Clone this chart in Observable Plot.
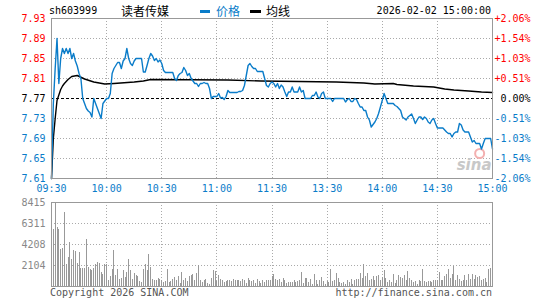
<!DOCTYPE html>
<html><head><meta charset="utf-8">
<script src="https://cdn.jsdelivr.net/npm/d3@7"></script>
<script src="https://cdn.jsdelivr.net/npm/@observablehq/plot@0.6"></script>
<style>
body{margin:0;background:#fff;}
#wrap{position:relative;width:545px;height:300px;overflow:hidden;font-family:"DejaVu Sans Mono",monospace;}
#wrap svg{position:absolute;left:0;}
.t{position:absolute;white-space:nowrap;font-size:10px;line-height:10px;}
.cjk{font-family:"Noto Sans CJK SC",sans-serif;font-size:12px;line-height:12px;}
.bar{position:absolute;height:3px;}
</style></head><body><div id="wrap"></div>
<script>
// ---- data ----
const code = "sh603999";
const stockName = "读者传媒";
const legendNames = ["价格", "均线"];
const stamp = "2026-02-02 15:00:00";
const timeLabels = ["09:30","10:00","10:30","11:00","11:30","13:30","14:00","14:30","15:00"];
const priceTicks = [7.93,7.89,7.85,7.81,7.77,7.73,7.69,7.65,7.61];
const pctLabels = ["+2.06%","+1.54%","+1.03%","+0.51%","0.00%","-0.51%","-1.03%","-1.54%","-2.06%"];
const volTicks = [8415,6311,4208,2104];
const prevClose = 7.77;
const price = [
7.61,7.76,7.83,7.89,7.80,7.85,7.87,7.86,7.87,7.86,
7.87,7.85,7.86,7.845,7.835,7.82,7.81,7.77,7.76,7.75,
7.745,7.742,7.733,7.77,7.76,7.75,7.74,7.73,7.76,7.765,
7.77,7.77,7.78,7.82,7.83,7.836,7.842,7.842,7.83,7.845,
7.85,7.87,7.85,7.84,7.836,7.845,7.85,7.85,7.85,7.85,
7.823,7.823,7.836,7.85,7.86,7.855,7.846,7.85,7.843,7.847,
7.84,7.826,7.822,7.822,7.822,7.822,7.822,7.81,7.806,7.816,
7.82,7.822,7.832,7.826,7.816,7.82,7.81,7.805,7.80,7.80,
7.794,7.80,7.80,7.802,7.80,7.80,7.79,7.77,7.774,7.774,
7.774,7.78,7.771,7.772,7.768,7.774,7.786,7.782,7.782,7.782,
7.782,7.782,7.784,7.784,7.786,7.796,7.816,7.836,7.84,7.834,
7.83,7.83,7.824,7.824,7.824,7.824,7.81,7.796,7.793,7.80,
7.803,7.80,7.793,7.80,7.79,7.797,7.793,7.783,7.774,7.783,
7.783,7.793,7.783,7.783,7.783,7.793,7.783,7.786,7.77,7.77,
7.77,7.77,7.776,7.776,7.783,7.773,7.77,7.78,7.783,7.77,
7.77,7.77,7.77,7.764,7.77,7.77,7.77,7.77,7.77,7.77,
7.763,7.768,7.77,7.764,7.764,7.77,7.768,7.76,7.753,7.753,
7.746,7.746,7.733,7.727,7.713,7.718,7.723,7.73,7.74,7.753,
7.766,7.78,7.77,7.76,7.76,7.76,7.76,7.756,7.754,7.75,
7.746,7.733,7.73,7.727,7.733,7.736,7.739,7.73,7.72,7.727,
7.733,7.733,7.728,7.733,7.73,7.723,7.72,7.727,7.73,7.72,
7.711,7.711,7.711,7.711,7.707,7.703,7.70,7.70,7.693,7.70,
7.703,7.703,7.72,7.717,7.707,7.703,7.703,7.703,7.693,7.683,
7.686,7.68,7.68,7.68,7.669,7.68,7.69,7.69,7.69,7.69,
7.669];
const avgMin = [0,1,2,3,4,5,6,7,8,9,11,14,18,23,29,34,45,50,54,96,114,155,170,176,186,188,197,208,214,219,227,234,240];
const avgVal = [7.61,7.69,7.73,7.766,7.777,7.788,7.795,7.80,7.804,7.808,7.814,7.816,7.809,7.803,7.799,7.80,7.803,7.805,7.808,7.807,7.805,7.803,7.801,7.799,7.80,7.798,7.795,7.793,7.789,7.787,7.785,7.783,7.782];
const volume = [
3400,5680,8415,5910,5750,3750,3850,7415,2240,2900,
4400,2740,3570,3470,2300,3400,1800,1800,1800,4680,
1900,1700,1570,1800,2240,2400,2300,1400,1170,2170,
2170,570,970,1740,3570,1070,1670,740,840,1570,
900,1400,2670,1570,740,1300,1070,970,540,400,
1670,2170,1570,3170,1900,740,570,640,840,740,
640,400,500,1670,400,500,740,900,570,1000,
300,1400,570,840,500,970,1070,1170,570,1300,
2070,640,400,570,740,300,240,840,1570,1500,
500,1070,740,640,400,500,640,640,500,740,
570,640,640,500,740,640,300,840,640,500,
570,300,740,500,300,570,400,640,570,640,
970,1170,740,640,740,400,840,570,300,400,
400,400,640,400,500,570,1400,300,840,840,
400,740,240,1240,570,240,570,900,500,240,
500,400,1740,500,640,1300,840,400,300,400,
240,570,400,740,240,570,740,740,1300,800,
2240,970,1300,640,740,970,640,970,1070,570,
900,1570,840,400,640,400,1170,300,570,1070,
900,840,1070,570,1470,840,640,400,500,240,
570,500,1670,500,400,500,500,400,640,570,
570,1400,640,570,970,1240,1670,840,1170,1970,
640,1070,740,500,570,1070,640,1170,740,1170,
740,1070,900,970,640,740,840,400,1670,1840,
1670];

// ---- drawing ----
const BLUE = "#0a7cc9", RED = "#ff0000", GRID = "#aaaaaa", FRAME = "#999999";
const xTicks = d3.range(0, 241, 30);
const priceData = price.map((p, i) => ({m: i, p}));
const avgData = avgMin.map((m, i) => ({m, p: avgVal[i]}));
const volData = volume.map((v, i) => ({m: i, v}));
const colorFor = v => v > prevClose ? RED : v < prevClose ? BLUE : "#000000";
const font = {fontFamily: "DejaVu Sans Mono, monospace", fontSize: "10px", background: "transparent", overflow: "visible"};
const crisp = {shapeRendering: "crispEdges"};

const priceChart = Plot.plot({
  width: 545, height: 192, marginLeft: 51, marginRight: 53, marginTop: 18, marginBottom: 14,
  style: font,
  x: {domain: [0, 240], axis: null},
  y: {domain: [7.61, 7.93], axis: null},
  color: {type: "identity"},
  marks: [
    Plot.gridX(xTicks.slice(1, -1), {stroke: GRID, strokeOpacity: 1, strokeDasharray: "1,2", ...crisp}),
    Plot.gridY(priceTicks.filter(v => v !== prevClose && v !== 7.93 && v !== 7.61), {stroke: GRID, strokeOpacity: 1, strokeDasharray: "1,2", ...crisp}),
    Plot.text(["sina"], {x: 230, y: 7.637, fill: "#c8c8c8", fontSize: 15, fontWeight: "bold", fontStyle: "italic", fontFamily: "DejaVu Sans"}),
    Plot.dot([0], {x: 233, y: 7.66, r: 4.5, stroke: "#f3b0b0", strokeWidth: 2}),
    Plot.ruleY([prevClose], {stroke: "#000", strokeWidth: 1, strokeDasharray: "3,2", ...crisp}),
    Plot.line(avgData, {x: "m", y: "p", stroke: "#000", strokeWidth: 1.4}),
    Plot.line(priceData, {x: "m", y: "p", stroke: BLUE, strokeWidth: 1.4}),
    Plot.frame({stroke: FRAME, strokeWidth: 1.2, ...crisp}),
    Plot.text(priceTicks, {x: 0, y: d => d, text: d => d.toFixed(2), textAnchor: "end", dx: -6, fill: colorFor, fontSize: 10}),
    Plot.text(priceTicks, {x: 240, y: d => d, text: (d, i) => pctLabels[i], textAnchor: "end", dx: 38, fill: colorFor, fontSize: 10}),
    Plot.text(xTicks, {x: d => d, y: 7.61, text: (d, i) => timeLabels[i], dy: 10, fill: BLUE, fontSize: 10})
  ]
});
priceChart.style.top = "0px";

const volumeChart = Plot.plot({
  width: 545, height: 108, marginLeft: 51, marginRight: 53, marginTop: 10, marginBottom: 14,
  style: font,
  x: {domain: [0, 240], axis: null},
  y: {domain: [0, 8415], axis: null},
  marks: [
    Plot.gridX(xTicks.slice(1, -1), {stroke: GRID, strokeOpacity: 1, strokeDasharray: "1,2", ...crisp}),
    Plot.gridY(volTicks.slice(1), {stroke: GRID, strokeOpacity: 1, strokeDasharray: "1,2", ...crisp}),
    Plot.ruleX(volData, {x: "m", y1: 0, y2: "v", stroke: "#999", strokeWidth: 1, ...crisp}),
    Plot.frame({stroke: FRAME, strokeWidth: 1.2, ...crisp}),
    Plot.text(volTicks, {x: 0, y: d => d, text: d => String(d), textAnchor: "end", dx: -6, fill: "#888", fontSize: 10})
  ]
});
volumeChart.style.top = "192px";

const wrap = document.getElementById("wrap");
wrap.append(priceChart, volumeChart);

function addText(txt, css, cls = "t") {
  const d = document.createElement("div");
  d.className = cls;
  d.textContent = txt;
  Object.assign(d.style, css);
  wrap.appendChild(d);
}
function addBar(left, width, color) {
  const d = document.createElement("div");
  d.className = "bar";
  Object.assign(d.style, {left: left + "px", width: width + "px", top: "10px", background: color});
  wrap.appendChild(d);
}
addText(code, {left: "49px", top: "6px", color: "#000"});
addText(stockName, {left: "121px", top: "5px", color: "#000"}, "t cjk");
addBar(200, 10, BLUE);
addText(legendNames[0], {left: "216px", top: "5px", color: BLUE}, "t cjk");
addBar(250, 11, "#000");
addText(legendNames[1], {left: "266px", top: "5px", color: "#000"}, "t cjk");
addText(stamp, {right: "54px", top: "6px", color: "#000"});
addText("Copyright 2026 SINA.COM", {left: "50px", top: "288px", color: "#555"});
addText("http://finance.sina.com.cn", {right: "53px", top: "288px", color: "#555"});
</script></body></html>
